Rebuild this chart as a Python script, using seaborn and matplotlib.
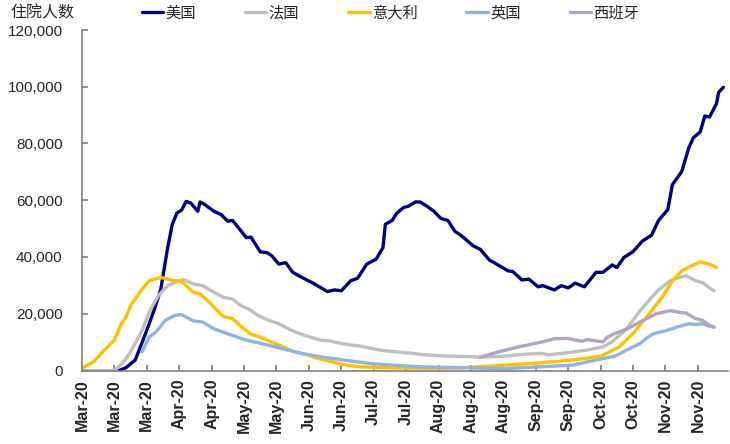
import pandas as pd
import matplotlib
matplotlib.use("Agg")
import matplotlib.pyplot as plt
import seaborn as sns

# days after 2020-03-01 and hospitalised patients
us_days = [16, 19, 23, 28, 31, 34, 37, 39, 41, 43, 45, 47, 50, 51, 53, 57, 60, 63, 65, 67,
           71, 73, 77, 80, 82, 85, 88, 91, 95, 100, 106, 109, 112, 116, 119, 123, 127, 130,
           131, 134, 136, 139, 141, 144, 146, 149, 152, 155, 158, 161, 164, 169, 172, 176,
           178, 184, 186, 190, 193, 197, 199, 204, 207, 210, 213, 217, 222, 225, 229, 231,
           234, 238, 242, 246, 249, 253, 255, 259, 262, 264, 267, 269, 271, 274, 275, 277]
us_vals = [0, 1000, 3700, 14200, 21000, 28500, 43300, 51500, 55500, 56500, 59600, 59000,
           56100, 59400, 58500, 56100, 55000, 52600, 52900, 50900, 46800, 47000, 41800,
           41500, 40400, 37500, 38000, 34600, 32800, 30700, 27800, 28400, 28100, 31600,
           32500, 37500, 39200, 43300, 51500, 52900, 55500, 57500, 57900, 59400, 59400,
           57900, 56100, 53600, 52900, 49100, 47400, 43900, 42700, 38900, 38000, 35100,
           34900, 31900, 32200, 29500, 29900, 28400, 29900, 29100, 30800, 29500, 34600,
           34600, 37200, 36300, 39800, 41900, 45600, 47700, 52900, 56700, 65500, 70100,
           78300, 82000, 84100, 89700, 89300, 94000, 98100, 99800]

fr_days = [0, 14, 18, 21, 26, 29, 33, 37, 41, 44, 48, 52, 57, 61, 65, 69, 72, 76, 80, 85,
           90, 96, 103, 107, 112, 117, 120, 130, 142, 147, 157, 163, 173, 183, 192, 199,
           201, 209, 218, 225, 229, 235, 241, 246, 249, 254, 258, 261, 265, 268, 271, 273]
fr_vals = [0, 0, 3100, 6600, 14200, 20600, 26400, 29900, 31400, 32000, 30500, 29900,
           27600, 25800, 25200, 22600, 21700, 19400, 17900, 16500, 14300, 12400, 10700,
           10400, 9500, 8900, 8600, 7000, 6100, 5600, 5100, 5000, 4700, 5100, 5800, 6000,
           5500, 6200, 7200, 8300, 10100, 14500, 21000, 25800, 28400, 31600, 32800, 33400,
           31600, 31000, 29100, 28100]

it_days = [0, 5, 9, 14, 17, 19, 21, 26, 29, 34, 38, 43, 45, 48, 51, 55, 57, 61, 65, 69,
           73, 77, 81, 85, 91, 98, 101, 108, 114, 120, 134, 150, 163, 169, 183, 198, 212,
           224, 232, 238, 245, 251, 255, 259, 264, 267, 271, 274]
it_vals = [800, 3100, 6600, 10700, 16500, 18800, 22900, 28700, 31600, 32800, 32000, 31300,
           29900, 27600, 27000, 24100, 22300, 19100, 18300, 15300, 12800, 11800, 10300,
           9000, 6800, 5400, 4400, 3100, 1900, 1300, 900, 800, 900, 1200, 1900, 2700, 3700,
           5000, 8300, 13000, 20000, 26400, 31600, 35100, 37200, 38300, 37500, 36300]

uk_days = [26, 29, 32, 36, 40, 43, 48, 52, 57, 62, 67, 71, 77, 85, 95, 103, 110, 113, 124,
           134, 146, 163, 175, 183, 198, 212, 222, 230, 236, 241, 244, 247, 252, 257, 262,
           265, 268, 271, 273]
uk_vals = [6600, 11800, 13600, 17700, 19400, 19700, 17500, 17100, 14700, 13200, 11800,
           10700, 9600, 8000, 6000, 4800, 4100, 3700, 2500, 1900, 1300, 1000, 800, 700,
           1300, 1900, 3700, 5000, 7500, 9500, 11500, 13000, 14000, 15300, 16500, 16200,
           16500, 15600, 15300]

es_days = [172, 180, 183, 189, 192, 197, 199, 204, 210, 212, 216, 218, 225, 227, 230, 235,
           241, 248, 254, 258, 261, 265, 268, 271, 273]
es_vals = [4700, 6600, 7200, 8400, 8900, 9800, 10100, 11200, 11300, 10900, 10300, 10900,
           10100, 11800, 13000, 14500, 17100, 20000, 21100, 20500, 20200, 18300, 17700,
           15900, 15300]

countries = ['美国', '法国', '意大利', '英国', '西班牙']
colors = ['#000080', '#BFBFBF', '#FFC000', '#8EB4E3', '#B3A2C7']
tick_labels = ['Mar-20', 'Mar-20', 'Mar-20', 'Apr-20', 'Apr-20', 'May-20', 'May-20',
               'Jun-20', 'Jun-20', 'Jul-20', 'Jul-20', 'Aug-20', 'Aug-20', 'Aug-20',
               'Sep-20', 'Sep-20', 'Oct-20', 'Oct-20', 'Nov-20', 'Nov-20']

start = pd.Timestamp('2020-03-01')
series = [(us_days, us_vals), (fr_days, fr_vals), (it_days, it_vals),
          (uk_days, uk_vals), (es_days, es_vals)]
frames = []
for name, (d, v) in zip(countries, series):
    frames.append(pd.DataFrame({'date': start + pd.to_timedelta(d, unit='D'),
                                'value': v, 'country': name}))
df = pd.concat(frames, ignore_index=True)

sns.set_theme(style="ticks")
plt.rcParams['font.family'] = ['Liberation Sans', 'Noto Sans CJK SC']

fig = plt.figure(figsize=(7.3, 4.44), dpi=100)
ax = fig.add_axes([82 / 730, 1 - 370.5 / 444, (728 - 82) / 730, (370.5 - 30) / 444])

sns.lineplot(data=df, x='date', y='value', hue='country', hue_order=countries,
             palette=dict(zip(countries, colors)), linewidth=2.4, ax=ax)
for line in ax.get_lines():
    line.set_solid_joinstyle('round')
    line.set_solid_capstyle('round')

handles, labels = ax.get_legend_handles_labels()
ax.get_legend().remove()
fig.legend(handles, labels, loc='center left', bbox_to_anchor=(142 / 730, 1 - 13 / 444),
           ncol=5, frameon=False, borderpad=0, borderaxespad=0, handlelength=1.4,
           handletextpad=0.15, columnspacing=3.2,
           prop={'family': 'Noto Sans CJK SC', 'size': 11})
fig.text(10 / 730, 1 - 13 / 444, '住院人数', family='Noto Sans CJK SC', fontsize=11.5,
         va='center', ha='left')

ticks = pd.date_range(start, periods=len(tick_labels), freq='14D')
ax.set_xticks(ticks)
ax.set_xticklabels(tick_labels, rotation=90, fontweight='bold', fontsize=11.5)
ax.set_xlim(start, start + pd.Timedelta(days=279))
ax.set_ylim(0, 120000)
ax.set_yticks(range(0, 120001, 20000))
ax.set_yticklabels([f'{v:,}' for v in range(0, 120001, 20000)], fontsize=11)
ax.set_xlabel('')
ax.set_ylabel('')

for side in ['top', 'right']:
    ax.spines[side].set_visible(False)
for side in ['left', 'bottom']:
    ax.spines[side].set_color('#808080')
    ax.spines[side].set_linewidth(1.2)
ax.tick_params(axis='x', direction='in', length=4, color='#808080', pad=6)
ax.tick_params(axis='y', direction='in', length=4, color='#808080', pad=14)

fig.savefig('out.png', dpi=100)
